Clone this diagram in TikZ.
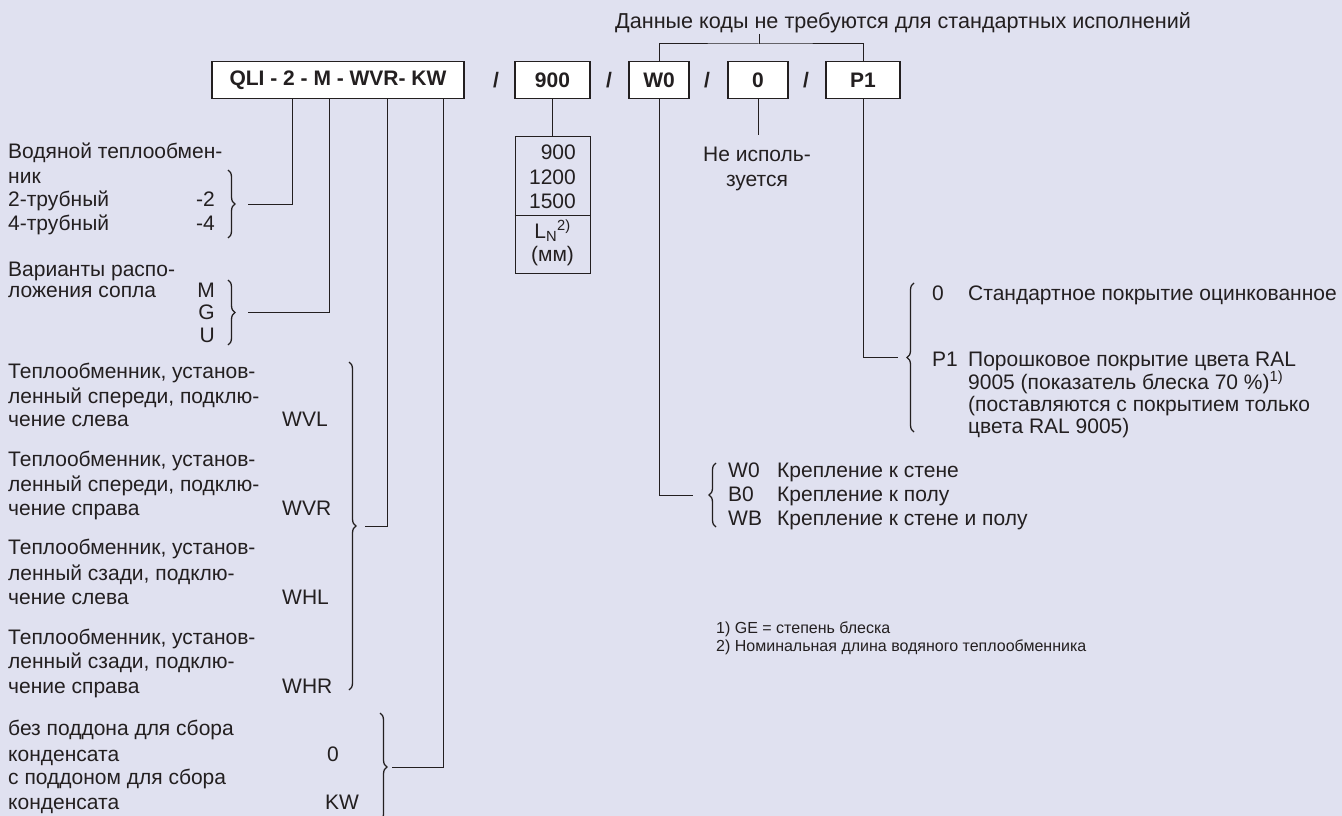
\documentclass[tikz,border=0pt]{standalone}
\usepackage{fontspec}
\setmainfont{Liberation Sans}
\usetikzlibrary{decorations.pathreplacing,calc}
\definecolor{bg}{RGB}{224,225,240}
\definecolor{ink}{RGB}{35,31,32}
\begin{document}
\begin{tikzpicture}[x=1pt,y=-1pt,
  txt/.style={anchor=base west, inner sep=0pt, text=ink, font=\fontsize{21}{25}\selectfont},
  txtr/.style={txt, anchor=base east},
  txtc/.style={txt, anchor=base},
  small/.style={txt, font=\fontsize{16}{19}\selectfont},
  codebox/.style={draw=ink, line width=1.4pt, fill=white, minimum height=37pt, inner sep=0pt, text=ink, font=\fontsize{21}{25}\selectfont\bfseries},
  slash/.style={inner sep=0pt, text=ink, font=\fontsize{21}{25}\selectfont\bfseries},
  conn/.style={draw=ink, line width=1pt},
  brc/.style={draw=ink, line width=1.3pt, decorate, decoration={brace, amplitude=7pt}},
  ]
\fill[bg] (0,0) rectangle (1342,816);
\useasboundingbox (0,0) rectangle (1342,816);
\begin{scope}
\clip (0,0) rectangle (1342,816);

% header
\node[txt, font=\fontsize{21.6}{26}\selectfont] (hdr) at (615,29) {Данные коды не требуются для стандартных исполнений};
\coordinate (hb) at (759,44);
\coordinate (hs) at (759,34);

% code boxes
\node[codebox, minimum width=252pt] (b1) at (338,80) {QLI - 2 - M - WVR- KW};
\node[slash] (s1) at (496,80) {/};
\node[codebox, minimum width=75pt] (b2) at (552.5,80) {900};
\node[slash] (s2) at (609,80) {/};
\node[codebox, minimum width=60pt] (b3) at (659,80) {W0};
\node[slash] (s3) at (707,80) {/};
\node[codebox, minimum width=60pt] (b4) at (758,80) {0};
\node[slash] (s4) at (806,80) {/};
\node[codebox, minimum width=74pt] (b5) at (863,80) {P1};

\draw[conn] (hs) -- (hb);
\draw[conn] (b3.north) |- (hb) -| (b5.north);

% group A
\node[txt] (a1) at (8,158) {Водяной теплообмен-};
\node[txt] (a2) at (8,183) {ник};
\node[txt] (a3) at (8,206) {2-трубный};
\node[txtr] (a3c) at (215,206) {-2};
\node[txt] (a4) at (8,230) {4-трубный};
\node[txtr] (a4c) at (215,230) {-4};
\draw[brc] (228,170) -- (228,238);
\coordinate (tA) at (248,204);
\draw[conn] (b1.south -| 292,0) |- (tA);

% group B
\node[txt] (m1) at (8,276) {Варианты распо-};
\node[txt] (m2) at (8,297) {ложения сопла};
\node[txtr] (m2c) at (215,297) {M};
\node[txtr] (m3c) at (215,319) {G};
\node[txtr] (m4c) at (215,342) {U};
\draw[brc] (228,280) -- (228,345);
\coordinate (tB) at (248,312);
\draw[conn] (b1.south -| 329,0) |- (tB);

% group C
\node[txt] (c11) at (8,378) {Теплообменник, установ-};
\node[txt] (c12) at (8,403) {ленный спереди, подклю-};
\node[txt] (c13) at (8,426) {чение слева};
\node[txt] (c1c) at (282,426) {WVL};
\node[txt] (c21) at (8,466) {Теплообменник, установ-};
\node[txt] (c22) at (8,491) {ленный спереди, подклю-};
\node[txt] (c23) at (8,515) {чение справа};
\node[txt] (c2c) at (282,515) {WVR};
\node[txt] (c31) at (8,554) {Теплообменник, установ-};
\node[txt] (c32) at (8,580) {ленный сзади, подклю-};
\node[txt] (c33) at (8,604) {чение слева};
\node[txt] (c3c) at (282,604) {WHL};
\node[txt] (c41) at (8,644) {Теплообменник, установ-};
\node[txt] (c42) at (8,668) {ленный сзади, подклю-};
\node[txt] (c43) at (8,693) {чение справа};
\node[txt] (c4c) at (282,693) {WHR};
\draw[brc] (349,362) -- (349,690);
\coordinate (tC) at (365,526);
\draw[conn] (b1.south -| 387,0) |- (tC);

% group D
\node[txt] (d1) at (8,735) {без поддона для сбора};
\node[txt] (d2) at (8,761) {конденсата};
\node[txt] (d2c) at (327,761) {0};
\node[txt] (d3) at (8,784) {с поддоном для сбора};
\node[txt] (d4) at (8,809) {конденсата};
\node[txt] (d4c) at (325,809) {KW};
\draw[brc] (380,713) -- (380,821);
\coordinate (tD) at (392,767);
\draw[conn] (b1.south -| 443,0) |- (tD);

% length box
\node[draw=ink, line width=1pt, minimum width=75pt, minimum height=137pt, inner sep=0pt] (lb) at (552.5,204.5) {};
\draw[conn] (lb.west |- 0,215) -- (lb.east |- 0,215);
\node[txtr] (l1) at (576,159) {900};
\node[txtr] (l2) at (576,184) {1200};
\node[txtr] (l3) at (576,208) {1500};
\node[txtc] (l4) at (552.5,238) {L\textsubscript{N}\textsuperscript{2)}};
\node[txtc] (l5) at (552.5,261) {(мм)};
\draw[conn] (b2.south) -- (lb.north);

% not used
\node[txtc] (n1) at (757,161) {Не исполь-};
\node[txtc] (n2) at (757,186) {зуется};
\coordinate (nTop) at (758,135);
\draw[conn] (b4.south) -- (nTop);

% W0 group
\draw[brc] (716,527) -- (716,463);
\coordinate (tW) at (693,495);
\draw[conn] (b3.south) |- (tW);
\node[txt] (w1c) at (728,477) {W0};
\node[txt] (w1) at (777,477) {Крепление к стене};
\node[txt] (w2c) at (728,501) {B0};
\node[txt] (w2) at (777,501) {Крепление к полу};
\node[txt] (w3c) at (728,525) {WB};
\node[txt] (w3) at (777,525) {Крепление к стене и полу};

% P1 group
\draw[brc] (914,432) -- (914,283);
\coordinate (tP) at (898,357);
\draw[conn] (b5.south) |- (tP);
\node[txt] (p0c) at (932,300) {0};
\node[txt] (p0) at (968,300) {Стандартное покрытие оцинкованное};
\node[txt] (p1c) at (932,366) {P1};
\node[txt] (p1) at (968,366) {Порошковое покрытие цвета RAL};
\node[txt] (p2) at (968,389) {9005 (показатель блеска 70 \%)\textsuperscript{1)}};
\node[txt] (p3) at (968,411) {(поставляются с покрытием только};
\node[txt] (p4) at (968,433) {цвета RAL 9005)};

% footnotes
\node[small] (f1) at (716,633) {1) GE = степень блеска};
\node[small] (f2) at (716,651) {2) Номинальная длина водяного теплообменника};
\end{scope}
\end{tikzpicture}
\end{document}
